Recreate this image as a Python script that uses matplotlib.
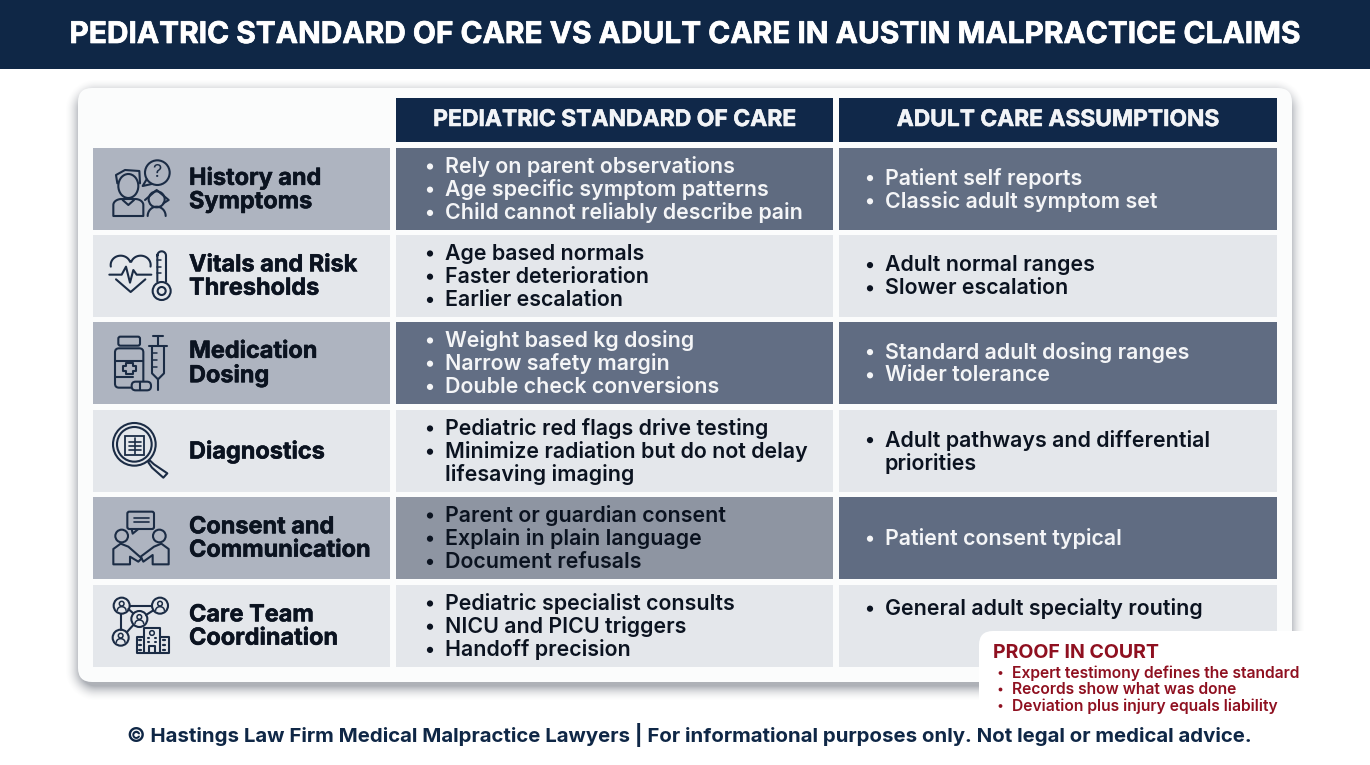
#!/usr/bin/env python3
import numpy as np
from matplotlib import pyplot as plt
from matplotlib import patheffects as pe
from matplotlib.colors import to_rgb
from matplotlib.patches import FancyBboxPatch, Rectangle, Circle, Ellipse, Polygon

TITLE = "PEDIATRIC STANDARD OF CARE VS ADULT CARE IN AUSTIN MALPRACTICE CLAIMS"
HEADERS = ["PEDIATRIC STANDARD OF CARE", "ADULT CARE ASSUMPTIONS"]
CATEGORIES = ["History and\nSymptoms", "Vitals and Risk\nThresholds", "Medication\nDosing",
              "Diagnostics", "Consent and\nCommunication", "Care Team\nCoordination"]
PEDIATRIC = [
    ["Rely on parent observations", "Age specific symptom patterns", "Child cannot reliably describe pain"],
    ["Age based normals", "Faster deterioration", "Earlier escalation"],
    ["Weight based kg dosing", "Narrow safety margin", "Double check conversions"],
    ["Pediatric red flags drive testing", "Minimize radiation but do not delay\nlifesaving imaging"],
    ["Parent or guardian consent", "Explain in plain language", "Document refusals"],
    ["Pediatric specialist consults", "NICU and PICU triggers", "Handoff precision"],
]
ADULT = [
    ["Patient self reports", "Classic adult symptom set"],
    ["Adult normal ranges", "Slower escalation"],
    ["Standard adult dosing ranges", "Wider tolerance"],
    ["Adult pathways and differential\npriorities"],
    ["Patient consent typical"],
    ["General adult specialty routing"],
]
PROOF_TITLE = "PROOF IN COURT"
PROOF = ["Expert testimony defines the standard", "Records show what was done",
         "Deviation plus injury equals liability"]
FOOTER = ("\u00a9 Hastings Law Firm Medical Malpractice Lawyers | "
          "For informational purposes only. Not legal or medical advice.")

NAVY = "#0f2746"
INK = "#0b1320"
ICON = "#1b2c45"
RED = "#8f1020"
ROW_TOPS = [148, 235, 322, 410, 497, 585]
ROW_H = 82
COLS = [(93, 390), (396, 833), (839, 1277)]
LINE_H = 23.2
FONT = "Inter"
# fill per row: label column, pediatric column, adult column
LABEL_FILL = ["#aeb4c0", "#e4e7eb", "#aeb4c0", "#e4e7eb", "#aeb4c0", "#e4e7eb"]
PED_FILL = ["#5f6b80", "#e4e7eb", "#626e84", "#e4e7eb", "#8e95a2", "#e4e7eb"]
ADULT_FILL = ["#626e83", "#e4e7eb", "#606c82", "#e4e7eb", "#606c82", "#e4e7eb"]
PED_TEXT = ["#f4f5f7", INK, "#f4f5f7", INK, INK, INK]
ADULT_TEXT = ["#f4f5f7", INK, "#f4f5f7", INK, "#f4f5f7", INK]
ADULT_SHIFT = [0, 0, 0, 0, 0, -18]  # last row text sits above the callout

fig = plt.figure(figsize=(13.7, 7.65), dpi=100, facecolor="white")
ax = fig.add_axes([0, 0, 1, 1])
ax.set_xlim(0, 1370)
ax.set_ylim(765, 0)
ax.axis("off")


def heavy(txt, width, color):
    txt.set_path_effects([pe.Stroke(linewidth=width, foreground=color), pe.Normal()])


def soft_shadow(x0, y0, x1, y1, rad, blur, strength, color="#3e4654", z=1.5):
    # rounded-box distance field, faded out over blur pixels
    xx, yy = np.meshgrid(np.arange(1370) + 0.5, np.arange(765) + 0.5)
    cx, cy = (x0 + x1) / 2, (y0 + y1) / 2
    qx = np.abs(xx - cx) - ((x1 - x0) / 2 - rad)
    qy = np.abs(yy - cy) - ((y1 - y0) / 2 - rad)
    dist = np.hypot(np.maximum(qx, 0), np.maximum(qy, 0)) + np.minimum(np.maximum(qx, qy), 0) - rad
    fade = np.clip(1 - dist / blur, 0, 1) ** 2
    rgba = np.zeros((765, 1370, 4))
    rgba[..., :3] = to_rgb(color)
    rgba[..., 3] = fade * strength
    ax.imshow(rgba, extent=(0, 1370, 765, 0), aspect="auto", zorder=z, interpolation="bilinear")


def line(ox, oy, pts, closed=False, lw=1.5):
    # icon points are given in the 3x zoom space of the reference
    xy = [(ox + p[0] / 3, oy + p[1] / 3) for p in pts]
    ax.add_patch(Polygon(xy, closed=closed, fill=False, edgecolor=ICON, lw=lw,
                         zorder=6, joinstyle="round", capstyle="round"))


def ring(ox, oy, cx, cy, r, ry=None, lw=1.5):
    ry = r if ry is None else ry
    ax.add_patch(Ellipse((ox + cx / 3, oy + cy / 3), 2 * r / 3, 2 * ry / 3, fill=False,
                         edgecolor=ICON, lw=lw, zorder=6))


def arc(cx, cy, rx, ry, a0, a1, n=24):
    t = np.radians(np.linspace(a0, a1, n))
    return list(zip(cx + rx * np.cos(t), cy + ry * np.sin(t)))


def box(ox, oy, x, y, w, h, rad=2, face="none"):
    ax.add_patch(FancyBboxPatch((ox + x / 3, oy + y / 3), w / 3, h / 3,
                                boxstyle=f"round,pad=0,rounding_size={rad}",
                                facecolor=face, edgecolor=ICON, lw=1.5, zorder=6))


def icon_history():
    ox, oy = 80, 90
    ring(ox, oy, 145, 288, 30, 36)
    line(ox, oy, [(112, 280), (108, 255), (135, 240), (178, 243), (180, 280)])
    line(ox, oy, [(100, 378), (100, 345)] + arc(125, 345, 25, 18, 180, 270)
         + arc(165, 345, 25, 18, 270, 360) + [(190, 378)], closed=True)
    line(ox, oy, [(128, 330), (145, 345), (162, 330)])
    ring(ox, oy, 232, 248, 37)
    line(ox, oy, [(200, 268), (188, 288), (215, 282)])
    ax.text(ox + 232 / 3, oy + 248 / 3, "?", fontsize=13, color=ICON, ha="center",
            va="center", zorder=6, family=FONT)
    ring(ox, oy, 230, 328, 24)
    line(ox, oy, [(195, 330), (230, 300), (266, 330), (250, 340)])
    line(ox, oy, arc(230, 378, 27, 28, 180, 360))


def icon_vitals():
    ox, oy = 80, 90
    heart = arc(122, 525, 30, 28, 170, 340) + arc(182, 525, 30, 28, 200, 370)
    line(ox, oy, heart)
    line(ox, oy, [(88, 554), (125, 554), (138, 530), (150, 578), (160, 540), (170, 554), (214, 554)])
    line(ox, oy, [(108, 568), (152, 606), (196, 568)])
    line(ox, oy, [(232, 575), (232, 495)] + arc(245, 497, 13, 13, 180, 360) + [(258, 575)])
    ring(ox, oy, 245, 603, 27)
    ring(ox, oy, 245, 603, 12)
    for y in (510, 530, 550):
        line(ox, oy, [(232, y), (244, y)], lw=1.1)


def icon_medication():
    ox, oy = 80, 90
    box(ox, oy, 115, 740, 65, 27)
    box(ox, oy, 105, 775, 85, 118, rad=4)
    line(ox, oy, [(107, 812), (188, 812)])
    line(ox, oy, [(107, 860), (160, 860)])
    line(ox, oy, [(138, 818), (158, 818), (158, 828), (168, 828), (168, 842), (158, 842), (158, 852),
                  (138, 852), (138, 842), (128, 842), (128, 828), (138, 828)], closed=True)
    box(ox, oy, 155, 875, 58, 26, rad=4, face="#aeb4c0")
    line(ox, oy, [(180, 875), (180, 901)])
    line(ox, oy, [(218, 738), (250, 738)])
    line(ox, oy, [(234, 738), (234, 768)])
    line(ox, oy, [(208, 768), (260, 768)])
    line(ox, oy, [(216, 768), (216, 850), (234, 868), (252, 850), (252, 768)])
    line(ox, oy, [(234, 868), (234, 900)])
    for y in (790, 810, 830):
        line(ox, oy, [(216, y), (230, y)], lw=1.1)


def icon_diagnostics():
    ox, oy = 80, 405
    ring(ox, oy, 163, 118, 64)
    ring(ox, oy, 163, 118, 52)
    ax.add_patch(Rectangle((ox + 135 / 3, oy + 92 / 3), 58 / 3, 58 / 3, fill=False, edgecolor=ICON, lw=1.3, zorder=6))
    line(ox, oy, [(165, 98), (165, 148)], lw=1.2)
    for y in (110, 122, 134):
        line(ox, oy, [(148, y), (182, y)], lw=1.2)
    line(ox, oy, [(208, 165), (222, 178), (262, 205), (250, 218), (216, 188), (205, 172)], closed=True)


def icon_consent():
    ox, oy = 80, 405
    box(ox, oy, 142, 320, 80, 52)
    line(ox, oy, [(155, 372), (158, 386), (175, 372)])
    line(ox, oy, [(162, 338), (206, 338)], lw=1.2)
    line(ox, oy, [(162, 352), (206, 352)], lw=1.2)
    ring(ox, oy, 125, 393, 19)
    ring(ox, oy, 238, 393, 19)
    line(ox, oy, [(100, 478), (100, 432), (122, 416), (145, 425), (185, 460), (175, 470), (150, 455), (150, 478)], closed=True)
    line(ox, oy, [(266, 478), (266, 432), (244, 416), (222, 425), (182, 455), (190, 470), (218, 450), (218, 478)], closed=True)


def icon_team():
    ox, oy = 80, 405
    nodes = [(125, 602), (240, 602), (178, 642), (122, 698)]
    line(ox, oy, [(150, 602), (215, 602)])
    line(ox, oy, [(122, 626), (122, 674)])
    line(ox, oy, [(145, 612), (160, 625)])
    line(ox, oy, [(220, 616), (198, 630)])
    line(ox, oy, [(160, 660), (140, 682)])
    for nx, ny in nodes:
        ring(ox, oy, nx, ny, 24)
        ring(ox, oy, nx, ny - 6, 7, lw=1.1)
        line(ox, oy, arc(nx, ny + 14, 13, 11, 180, 360), lw=1.1)
    line(ox, oy, [(170, 745), (170, 695), (192, 695), (192, 668), (240, 668), (240, 695), (266, 695), (266, 745)], closed=True)
    line(ox, oy, [(192, 695), (192, 745)])
    line(ox, oy, [(240, 695), (240, 745)])
    line(ox, oy, [(206, 745), (206, 722), (226, 722), (226, 745)])
    ring(ox, oy, 216, 684, 7, lw=1.1)
    for c in (180, 253):
        for y in (706, 720, 734):
            line(ox, oy, [(c - 3, y), (c + 3, y)], lw=1.6)
    for c in (206, 216, 226):
        for y in (700, 710):
            line(ox, oy, [(c - 1, y), (c + 1, y)], lw=1.5)


ICONS = [icon_history, icon_vitals, icon_medication, icon_diagnostics, icon_consent, icon_team]

# title band
ax.add_patch(Rectangle((0, 0), 1370, 69, facecolor=NAVY, edgecolor="none", zorder=1))
t = ax.text(685, 35, TITLE, color="white", fontsize=21.5, fontweight="bold", family=FONT,
            ha="center", va="center", zorder=2)
heavy(t, 0.5, "white")

# card with a soft shadow, mostly below
soft_shadow(80, 94, 1290, 686, 16, 16, 0.42)
ax.add_patch(FancyBboxPatch((78, 88), 1214, 594, boxstyle="round,pad=0,rounding_size=14",
                            facecolor="#fbfcfc", edgecolor="none", zorder=2))

# column headers
for (x0, x1), head, size in zip(COLS[1:], HEADERS, (16.5, 16.4)):
    ax.add_patch(Rectangle((x0, 98), x1 - x0, 44, facecolor="#102849", edgecolor="none", zorder=3))
    t = ax.text((x0 + x1) / 2, 120, head, color="#f2f4f7", fontsize=size, fontweight="bold",
                family=FONT, ha="center", va="center", zorder=5)
    heavy(t, 0.4, "#f2f4f7")

for i, top in enumerate(ROW_TOPS):
    mid = top + ROW_H / 2
    for (x0, x1), fill in zip(COLS, (LABEL_FILL[i], PED_FILL[i], ADULT_FILL[i])):
        ax.add_patch(Rectangle((x0, top), x1 - x0, ROW_H, facecolor=fill, edgecolor="none", zorder=3))

    t = ax.text(189, mid + 1, CATEGORIES[i], color=INK, fontsize=16.9, fontweight="bold", family=FONT,
                ha="left", va="center", linespacing=1.08, zorder=5)
    heavy(t, 0.4, INK)
    ICONS[i]()

    cells = ((PEDIATRIC[i], 430, 445, PED_TEXT[i], 0), (ADULT[i], 870, 885, ADULT_TEXT[i], ADULT_SHIFT[i]))
    for items, bx, tx, col, shift in cells:
        lines = sum(len(it.split("\n")) for it in items)
        y = mid + 0.7 + shift - (lines - 1) * LINE_H / 2
        for it in items:
            for k, part in enumerate(it.split("\n")):
                if k == 0:
                    ax.add_patch(Circle((bx, y), 3.1, facecolor=col, edgecolor="none", zorder=5))
                ax.text(tx, y, part, color=col, fontsize=15.38, fontweight="semibold",
                        family=FONT, ha="left", va="center", zorder=5)
                y += LINE_H

# proof in court callout over the card corner
ax.add_patch(FancyBboxPatch((979, 631), 460, 100, boxstyle="round,pad=0,rounding_size=14",
                            facecolor="white", edgecolor="none", zorder=7))
t = ax.text(993, 653, PROOF_TITLE, color=RED, fontsize=14.1, fontweight="bold", family=FONT,
            ha="left", va="center", zorder=8)
for y, item in zip((673, 689.5, 706), PROOF):
    ax.add_patch(Circle((1000.5, y), 1.9, facecolor=RED, edgecolor="none", zorder=8))
    ax.text(1012, y, item, color=RED, fontsize=11.25, fontweight="semibold", family=FONT,
            ha="left", va="center", zorder=8)

t = ax.text(689, 735, FOOTER, color=NAVY, fontsize=14.7, fontweight="bold", family=FONT,
            ha="center", va="center", zorder=9)

ax.set_xlim(0, 1370)
ax.set_ylim(765, 0)
fig.savefig("out.png", dpi=100)
